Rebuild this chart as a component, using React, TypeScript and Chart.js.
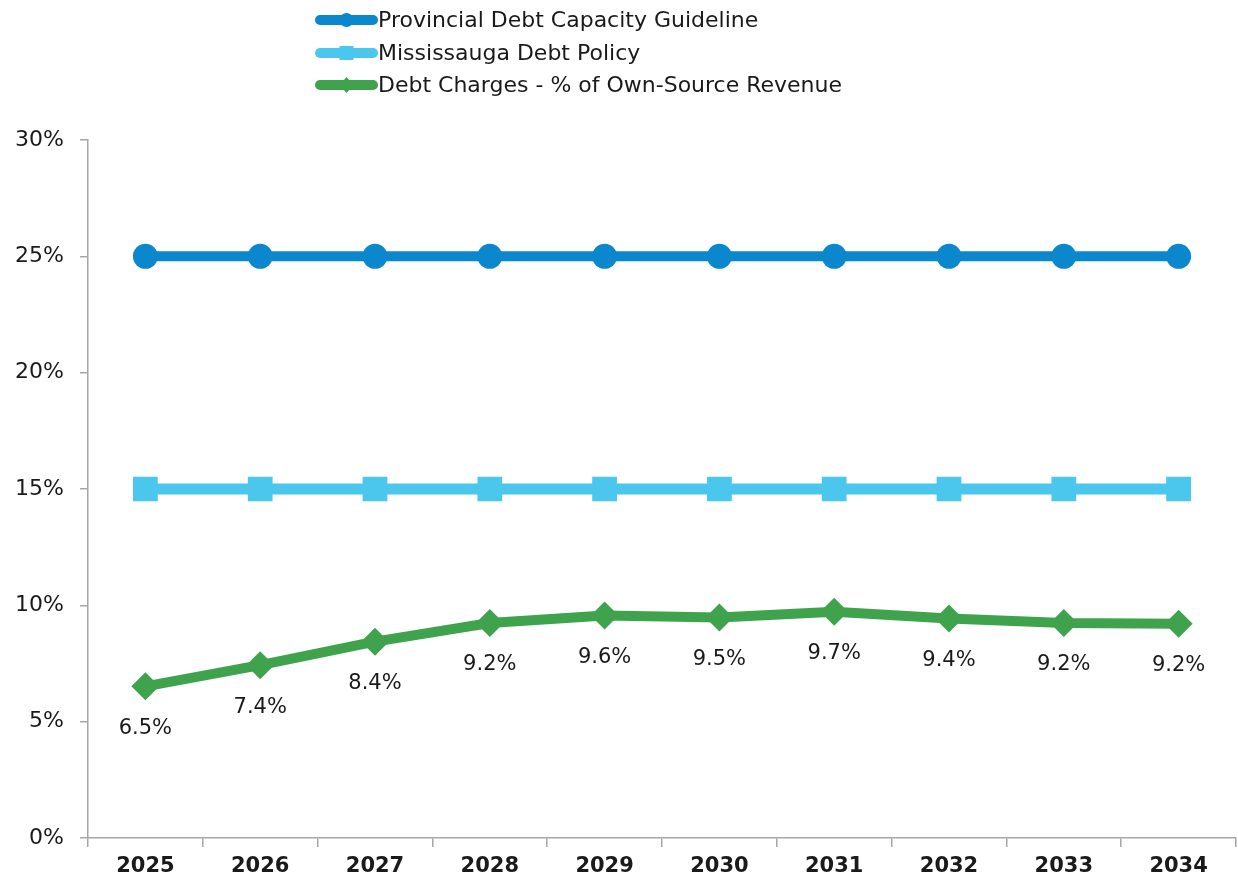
import React, { useEffect, useRef } from "react";
import { Chart, registerables } from "chart.js";

Chart.register(...registerables);

const years = ["2025", "2026", "2027", "2028", "2029", "2030", "2031", "2032", "2033", "2034"];
const provincialGuideline = [25, 25, 25, 25, 25, 25, 25, 25, 25, 25];
const mississaugaPolicy = [15, 15, 15, 15, 15, 15, 15, 15, 15, 15];
const debtCharges = [6.52, 7.43, 8.44, 9.24, 9.56, 9.48, 9.72, 9.43, 9.24, 9.21];
const yTicks = [0, 5, 10, 15, 20, 25, 30];

const FONT = "'DejaVu Sans', sans-serif";
const BLUE = "#0A87CD";
const LIGHT = "#4BC7EE";
const GREEN = "#3FA34D";

const legendPlugin = {
  id: "stackedLegend",
  afterDraw(chart: any) {
    const ctx = chart.ctx;
    const x0 = 315;
    const x1 = 378;
    const ys = [20, 53, 85];
    chart.data.datasets.forEach((ds: any, i: number) => {
      const y = ys[i];
      ctx.save();
      ctx.strokeStyle = ds.borderColor;
      ctx.lineWidth = 10;
      ctx.lineCap = "round";
      ctx.beginPath();
      ctx.moveTo(x0 + 5, y);
      ctx.lineTo(x1 - 5, y);
      ctx.stroke();
      ctx.fillStyle = ds.borderColor;
      const cx = (x0 + x1) / 2;
      if (ds.pointStyle === "circle") {
        ctx.beginPath();
        ctx.arc(cx, y, 7, 0, Math.PI * 2);
        ctx.fill();
      } else if (ds.pointStyle === "rect") {
        ctx.fillRect(cx - 7, y - 7, 14, 14);
      } else {
        ctx.beginPath();
        ctx.moveTo(cx, y - 8);
        ctx.lineTo(cx + 7, y);
        ctx.lineTo(cx, y + 8);
        ctx.lineTo(cx - 7, y);
        ctx.closePath();
        ctx.fill();
      }
      ctx.fillStyle = "#1a1a1a";
      ctx.font = `22px ${FONT}`;
      ctx.textBaseline = "middle";
      ctx.textAlign = "left";
      ctx.fillText(ds.label, x1, y + 1);
      ctx.restore();
    });
  },
};

const labelPlugin = {
  id: "pointLabels",
  afterDatasetsDraw(chart: any) {
    const ctx = chart.ctx;
    const meta = chart.getDatasetMeta(2);
    const ds = chart.data.datasets[2];
    ctx.save();
    ctx.fillStyle = "#1a1a1a";
    ctx.font = `21px ${FONT}`;
    ctx.textAlign = "center";
    ctx.textBaseline = "middle";
    meta.data.forEach((pt: any, i: number) => {
      ctx.fillText(Number(ds.data[i]).toFixed(1) + "%", pt.x, pt.y + 42);
    });
    ctx.restore();
  },
};

export default function App() {
  const ref = useRef<HTMLCanvasElement | null>(null);
  useEffect(() => {
    if (!ref.current) return;
    const chart = new Chart(ref.current, {
      type: "line",
      data: {
        labels: years,
        datasets: [
          {
            label: "Provincial Debt Capacity Guideline",
            data: provincialGuideline,
            borderColor: BLUE,
            backgroundColor: BLUE,
            borderWidth: 10,
            pointStyle: "circle",
            pointRadius: 12.5,
            pointBackgroundColor: BLUE,
            pointBorderWidth: 0,
          },
          {
            label: "Mississauga Debt Policy",
            data: mississaugaPolicy,
            borderColor: LIGHT,
            backgroundColor: LIGHT,
            borderWidth: 11,
            pointStyle: "rect",
            pointRadius: 17.5,
            pointBackgroundColor: LIGHT,
            pointBorderWidth: 0,
          },
          {
            label: "Debt Charges - % of Own-Source Revenue",
            data: debtCharges,
            borderColor: GREEN,
            backgroundColor: GREEN,
            borderWidth: 10,
            pointStyle: "rectRot",
            pointRadius: 14,
            pointBackgroundColor: GREEN,
            pointBorderWidth: 0,
          },
        ],
      },
      options: {
        animation: false,
        responsive: false,
        maintainAspectRatio: false,
        layout: { autoPadding: false, padding: { top: 140, right: 2, left: 0, bottom: 0 } },
        plugins: { legend: { display: false }, tooltip: { enabled: false } },
        scales: {
          x: {
            offset: true,
            grid: { offset: true, drawOnChartArea: false, color: "#A6A6A6", tickLength: 9, lineWidth: 1.5 },
            border: { color: "#A6A6A6", width: 1.5 },
            ticks: { color: "#1a1a1a", font: { family: FONT, size: 21, weight: "bold" }, padding: 7, maxRotation: 0 },
            afterFit: (s: any) => {
              s.height = 44;
              s.paddingLeft = 0;
              s.paddingRight = 0;
            },
          },
          y: {
            min: 0,
            max: 30,
            afterBuildTicks: (s: any) => { s.ticks = yTicks.map((v) => ({ value: v })); },
            grid: { drawOnChartArea: false, color: "#A6A6A6", tickLength: 8, lineWidth: 1.5 },
            border: { color: "#A6A6A6", width: 1.5 },
            ticks: {
              color: "#1a1a1a",
              font: { family: FONT, size: 22 },
              padding: 16,
              callback: (v: any) => v + "%",
            },
            afterFit: (s: any) => { s.width = 88; },
          },
        },
      },
      plugins: [legendPlugin, labelPlugin],
    });
    return () => chart.destroy();
  }, []);
  return (
    <div style={{ position: "fixed", left: 0, top: 0, width: 1238, height: 882, background: "#fff" }}>
      <canvas ref={ref} width={1238} height={882} style={{ width: 1238, height: 882 }} />
    </div>
  );
}
